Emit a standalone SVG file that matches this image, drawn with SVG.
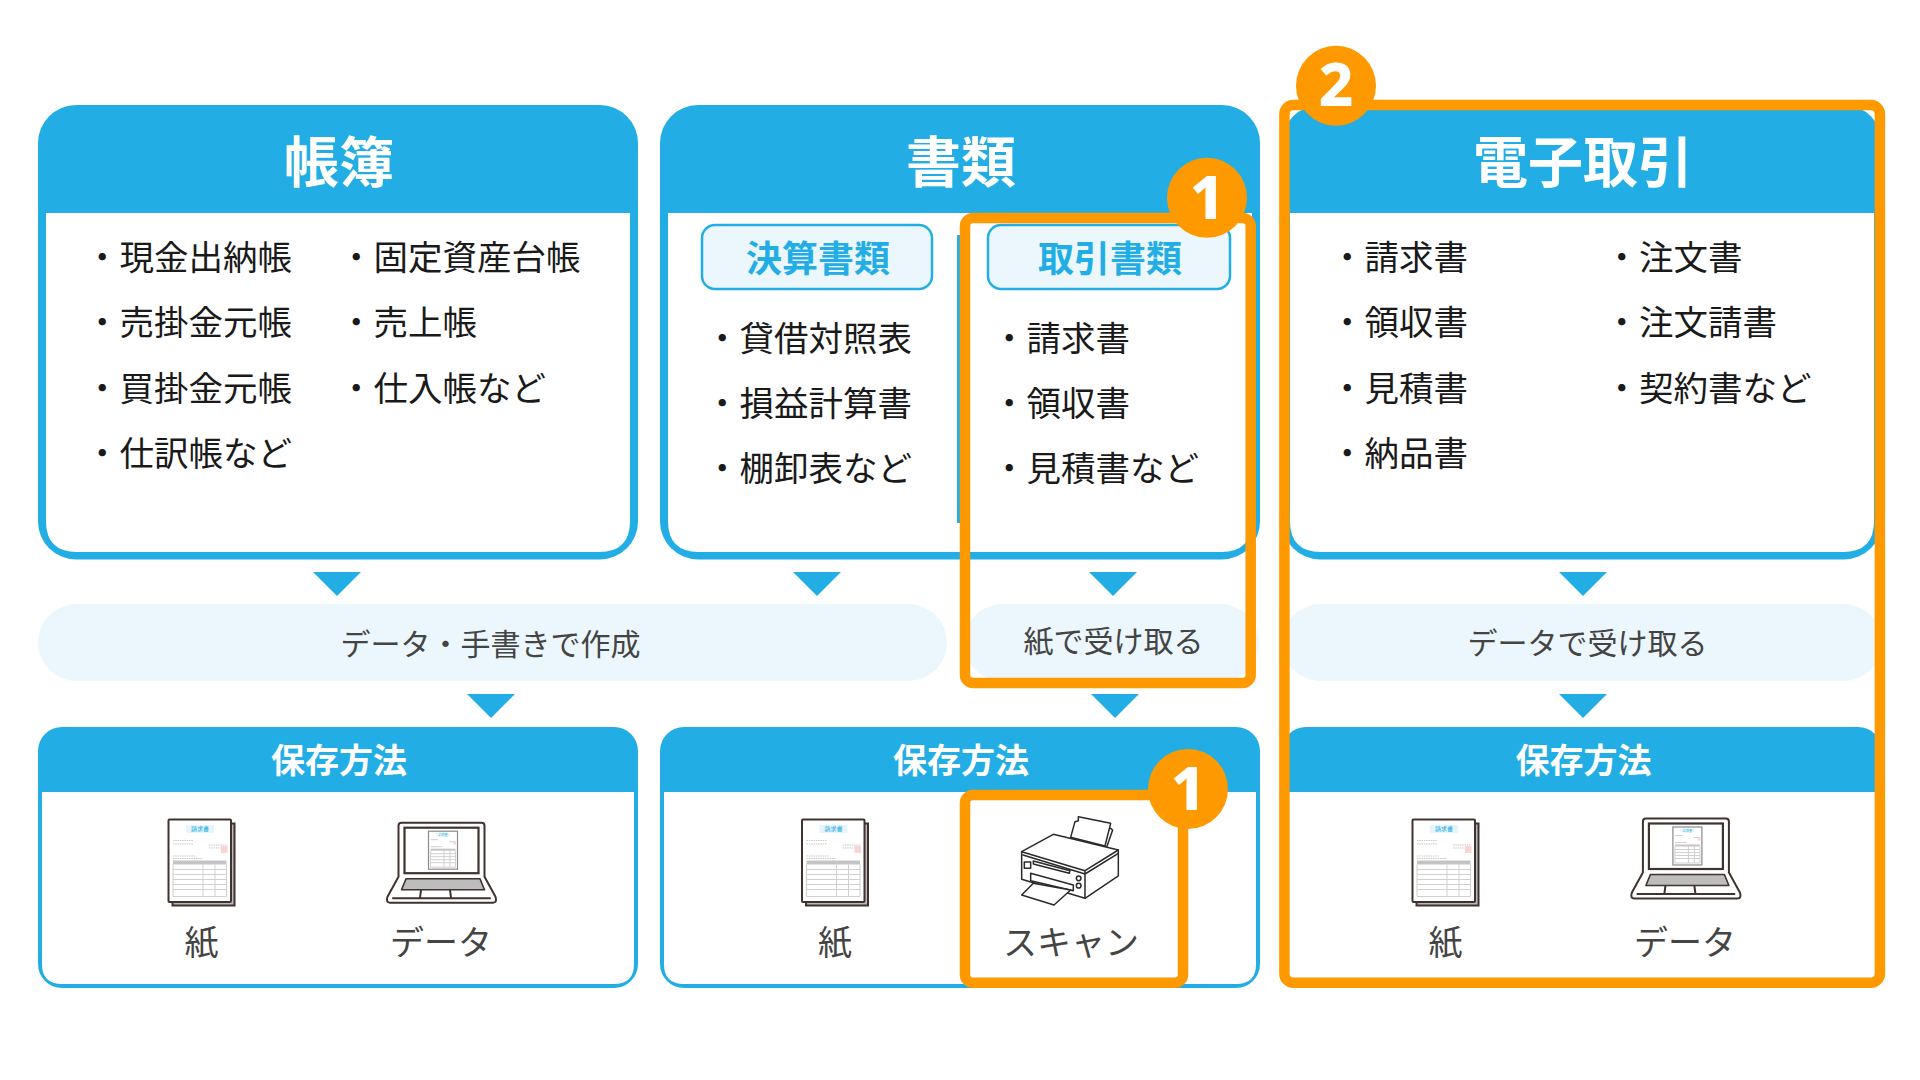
<svg xmlns="http://www.w3.org/2000/svg" width="1920" height="1080" viewBox="0 0 1920 1080">
<style>
text{font-family:"Noto Sans CJK JP","Noto Sans",sans-serif}
.blue{fill:#22aee5}
.white{fill:#fff}
.pill{fill:#ebf7fd}
.h1{font-size:55px;font-weight:700;fill:#fff;text-anchor:middle}
.h2{font-size:34px;font-weight:700;fill:#fff;text-anchor:middle}
.sub{font-size:36px;font-weight:700;fill:#22aee5;text-anchor:middle}
.li{font-size:34.500px;fill:#1a1a1a}
.flow{font-size:30px;fill:#444;text-anchor:middle}
.cap{font-size:34px;fill:#444;text-anchor:middle}
.subbox{fill:#ebf7fd;stroke:#22aee5;stroke-width:2.500}
.hl{fill:none;stroke:#ff9900;stroke-width:10.500}
.badge{fill:#ff9900}
.num{font-family:"Noto Sans",sans-serif;font-size:60px;font-weight:800;fill:#fff;text-anchor:middle}
.ln{fill:none;stroke:#40322e;stroke-width:2;stroke-linejoin:round;stroke-linecap:round}
.sheet{fill:#fff;stroke:#40322e;stroke-width:2;stroke-linejoin:round}
.gl{fill:none;stroke:#d0d0d0;stroke-width:1}
.gd{fill:none;stroke:#c8c8c8;stroke-width:1.200;stroke-dasharray:1.500 .8}
.kb{fill:#bdbdbd}
.tiny{font-size:6px;font-weight:400;fill:#22aee5;text-anchor:middle}
.tiny2{font-size:3px;font-weight:400;fill:#22aee5;text-anchor:middle}
.pr{fill:#fff;stroke:#2a2a2a;stroke-width:4.500;stroke-linejoin:round;stroke-linecap:round}
.prl{fill:none;stroke:#2a2a2a;stroke-width:4.500;stroke-linejoin:round;stroke-linecap:round}
</style>
<defs>
<g id="doc">
<rect x="4.500" y="4.500" width="62" height="82" fill="#bbb" stroke="#40322e" stroke-width="2"/>
<rect class="sheet" x="0.500" y="0.500" width="62.500" height="82.500" rx="1"/>
<rect x="18" y="6" width="28" height="8" fill="#e6f5fd"/>
<text class="tiny" x="32" y="12.200">請求書</text>
<path class="gd" d="M5 21.500H25M5 25H25M41 26H59.500M41 29H53M5 37H27M5 39.500H35"/>
<rect x="53" y="27" width="6.500" height="7" fill="#fbd3d3"/>
<rect x="5" y="41.500" width="53.500" height="4" fill="#c4c4c4"/>
<path class="gl" d="M5 45.500V77.500H58.500V45.500M5 50.500H58.500M5 55.500H58.500M5 60.500H58.500M5 65.500H58.500M5 70.500H58.500M35 45.500V77.500M47 45.500V77.500"/>
</g>
<g id="laptop">
<path class="sheet" d="M12.500 55V4Q12.500 1 15.500 1H95.500Q98.500 1 98.500 4V55L109.500 75Q111.500 81 107 81H4Q-0.500 81 1.500 75Z"/>
<rect x="18.500" y="6" width="74" height="45.500" fill="#fff" stroke="#40322e" stroke-width="2.200"/>
<path class="kb" stroke="#40322e" stroke-width="1.600" stroke-linejoin="round" d="M20 57H94L98.500 68H15.500Z"/>
<path class="ln" d="M7 76.500H104M35 68.500L34 76M64 68.500L65 76"/>
<rect x="42.500" y="9.500" width="29" height="38" fill="#fff" stroke="#8a8a8a" stroke-width="1.200"/>
<rect x="50" y="11.500" width="14" height="3.500" fill="#e6f5fd"/>
<text class="tiny2" x="57" y="14.500">請求書</text>
<path class="gl" stroke-width=".8" d="M44.500 18H52M63 20H70M44.500 25H56"/>
<rect x="67.500" y="20" width="2.500" height="3" fill="#fbd3d3"/>
<rect x="44.500" y="27" width="25" height="2" fill="#c4c4c4"/>
<path class="gl" stroke-width=".6" d="M44.500 29V45.500H69.500V29M44.500 32H69.500M44.500 35H69.500M44.500 38H69.500M44.500 41H69.500M58 29V45.500M64 29V45.500"/>
</g>
</defs>
<rect width="1920" height="1080" fill="#fff"/>
<g id="pills">
<rect class="pill" x="38" y="604" width="909" height="77" rx="38.500"/>
<rect class="pill" x="964" y="604" width="295" height="77" rx="38.500"/>
<rect class="pill" x="1282" y="604" width="600" height="77" rx="38.500"/>
</g>
<g id="connectors" class="blue">
<path d="M313 572H361L337 596Z"/>
<path d="M793 572H841L817 596Z"/>
<path d="M1089 572H1137L1113 596Z"/>
<path d="M1559 572H1607L1583 596Z"/>
<path d="M467 694H515L491 718Z"/>
<path d="M1091 694H1139L1115 718Z"/>
<path d="M1559 694H1607L1583 718Z"/>
</g>
<g id="flow-labels">
<text class="flow" x="490.500" y="655">データ・手書きで作成</text>
<text class="flow" x="1113.500" y="651.500">紙で受け取る</text>
<text class="flow" x="1587.500" y="654">データで受け取る</text>
</g>
<g id="node-chobo">
<rect class="blue" x="38" y="105" width="600" height="454.500" rx="38"/>
<path class="white" d="M46 213H630V521Q630 552 599 552H77Q46 552 46 521Z"/>
<text class="h1" x="339" y="182">帳簿</text>
<text class="li" x="85" y="270">・現金出納帳</text>
<text class="li" x="85" y="335">・売掛金元帳</text>
<text class="li" x="85" y="400.500">・買掛金元帳</text>
<text class="li" x="85" y="466">・仕訳帳など</text>
<text class="li" x="339" y="270">・固定資産台帳</text>
<text class="li" x="339" y="335">・売上帳</text>
<text class="li" x="339" y="400.500">・仕入帳など</text>
</g>
<g id="node-shorui">
<rect class="blue" x="660" y="105" width="600" height="454.500" rx="38"/>
<path class="white" d="M668 213H1252V521Q1252 552 1221 552H699Q668 552 668 521Z"/>
<rect class="blue" x="957" y="235" width="3" height="288"/>
<text class="h1" x="961" y="182">書類</text>
<rect class="subbox" x="702" y="225" width="230" height="64" rx="13"/>
<text class="sub" x="818" y="272">決算書類</text>
<rect class="subbox" x="988" y="225" width="242" height="64" rx="13"/>
<text class="sub" x="1110" y="272">取引書類</text>
<text class="li" x="705" y="351">・貸借対照表</text>
<text class="li" x="705" y="416">・損益計算書</text>
<text class="li" x="705" y="481">・棚卸表など</text>
<text class="li" x="992" y="351">・請求書</text>
<text class="li" x="992" y="416">・領収書</text>
<text class="li" x="992" y="481">・見積書など</text>
</g>
<g id="node-denshi">
<rect class="blue" x="1282" y="105" width="600" height="454.500" rx="38"/>
<path class="white" d="M1290 213H1874V521Q1874 552 1843 552H1321Q1290 552 1290 521Z"/>
<text class="h1" x="1583" y="182">電子取引</text>
<text class="li" x="1330" y="270">・請求書</text>
<text class="li" x="1330" y="335">・領収書</text>
<text class="li" x="1330" y="400.500">・見積書</text>
<text class="li" x="1330" y="466">・納品書</text>
<text class="li" x="1604.500" y="270">・注文書</text>
<text class="li" x="1604.500" y="335">・注文請書</text>
<text class="li" x="1604.500" y="400.500">・契約書など</text>
</g>
<g id="node-storage-1">
<rect class="blue" x="38" y="727" width="600" height="261" rx="24"/>
<path class="white" d="M42 792H634V964Q634 984 614 984H62Q42 984 42 964Z"/>
<text class="h2" x="339" y="773">保存方法</text>
<use href="#doc" x="168" y="819"/>
<use href="#laptop" x="386" y="821.700"/>
<text class="cap" x="201.500" y="955">紙</text>
<text class="cap" x="441" y="955">データ</text>
</g>
<g id="node-storage-2">
<rect class="blue" x="660" y="727" width="600" height="261" rx="24"/>
<path class="white" d="M664 792H1256V964Q1256 984 1236 984H684Q664 984 664 964Z"/>
<text class="h2" x="961" y="773">保存方法</text>
<use href="#doc" x="801.500" y="819"/>
<text class="cap" x="835" y="955">紙</text>
<g transform="translate(980 800) scale(.3333)">
<path class="pr" d="M272 112L285 65L295 62L295 50L392 70L375 138Z"/>
<path class="prl" d="M392 85L398 90L380 142"/>
<path class="pr" d="M125 155L220 103L415 150V228L315 295L125 238Z"/>
<path class="prl" d="M125 155L315 212L415 150M129 165L315 222L415 160M315 212V295"/>
<path class="prl" d="M160 183L270 212L268 220L160 192Z"/>
<rect class="pr" x="133" y="186" width="19" height="19"/>
<circle class="pr" cx="296" cy="235" r="7"/>
<circle class="pr" cx="296" cy="257" r="7"/>
<path class="pr" d="M152 220L280 255V272L152 242Z"/>
<path class="pr" d="M125 285L160 250L272 270L222 315Z"/>
</g>
<text class="cap" x="1071" y="955">スキャン</text>
</g>
<g id="node-storage-3">
<rect class="blue" x="1282" y="727" width="600" height="261" rx="24"/>
<path class="white" d="M1286 792H1878V964Q1878 984 1858 984H1306Q1286 984 1286 964Z"/>
<text class="h2" x="1583.500" y="773">保存方法</text>
<use href="#doc" x="1412" y="819"/>
<use href="#laptop" x="1630.400" y="817.500"/>
<text class="cap" x="1445.500" y="955">紙</text>
<text class="cap" x="1685" y="955">データ</text>
</g>
<g id="highlights">
<rect class="hl" x="965" y="218" width="285.700" height="465" rx="8"/>
<rect class="hl" x="965" y="795" width="218" height="187.700" rx="8"/>
<rect class="hl" x="1284.400" y="105" width="595.500" height="877.700" rx="9"/>
</g>
<g id="badge-1a"><circle class="badge" cx="1207" cy="197.700" r="40"/><text class="num" x="1207" y="218.500">1</text></g>
<g id="badge-1b"><circle class="badge" cx="1188" cy="789" r="40"/><text class="num" x="1188" y="810">1</text></g>
<g id="badge-2"><circle class="badge" cx="1336" cy="85.700" r="40"/><text class="num" x="1336" y="106">2</text></g>
</svg>
